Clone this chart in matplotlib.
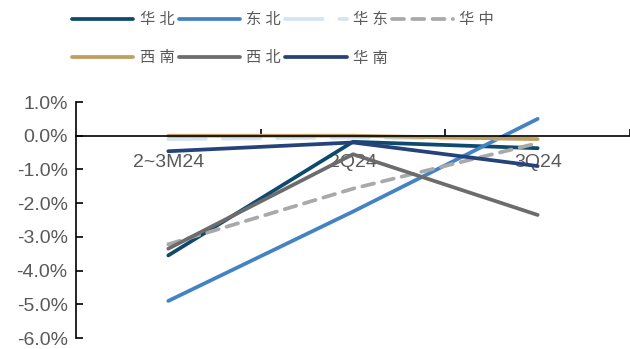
import matplotlib
matplotlib.use('Agg')
import matplotlib.pyplot as plt
from matplotlib.ticker import FuncFormatter, FixedLocator

plt.rcParams['font.family'] = ['Liberation Sans', 'Noto Sans CJK SC', 'DejaVu Sans']

# 01 - Data (percent)
periods = ['2~3M24', '2Q24', '3Q24']
north = [-3.55, -0.18, -0.37]        # 华北
northeast = [-4.90, -2.25, 0.50]     # 东北
east = [-0.10, -0.05, -0.10]         # 华东
central = [-3.22, -1.57, -0.22]      # 华中
southwest = [0.00, 0.00, -0.10]      # 西南
northwest = [-3.35, -0.55, -2.35]    # 西北
south = [-0.46, -0.20, -0.90]        # 华南

# 02 - Figure
fig = plt.figure(figsize=(6.3, 3.49), dpi=100)
ax = fig.add_axes([0.1206, 0.0315, 0.8794, 0.6762])
x = [0.5, 1.5, 2.5]
lw = 2.7

h_north, = ax.plot(x, north, color='#0E4A6D', lw=lw, solid_capstyle='round', label='华 北')
h_ne, = ax.plot(x, northeast, color='#4383C4', lw=lw, solid_capstyle='round', label='东 北')
h_east, = ax.plot(x, east, color='#D5E4F3', lw=lw, dashes=(10, 4.5), dash_capstyle='round', label='华 东')
h_central, = ax.plot(x, central, color='#A9A9A9', lw=lw, dashes=(3.2, 2.2), dash_capstyle='round', label='华 中')
h_sw, = ax.plot(x, southwest, color='#C19F5C', lw=lw, solid_capstyle='round', label='西 南')
h_nw, = ax.plot(x, northwest, color='#6C6C6C', lw=lw, solid_capstyle='round', label='西 北')
h_south, = ax.plot(x, south, color='#26427A', lw=lw, solid_capstyle='round', label='华 南')

# 03 - Axes
ax.set_xlim(0, 3)
ax.set_ylim(-6, 1)
ax.spines['top'].set_visible(False)
ax.spines['right'].set_visible(False)
ax.spines['bottom'].set_position(('data', 0))
ax.spines['bottom'].set_linewidth(1.2)
ax.spines['left'].set_linewidth(1.2)

ax.set_yticks([1, 0, -1, -2, -3, -4, -5, -6])
ax.yaxis.set_major_formatter(FuncFormatter(lambda v, p: f'{v:.1f}%'))
ax.tick_params(axis='y', direction='in', length=5, width=1.2, pad=6,
               labelsize=14, labelcolor='#595959')

ax.set_xticks(x)
ax.set_xticklabels(periods)
ax.xaxis.set_minor_locator(FixedLocator([1, 2, 3]))
ax.tick_params(axis='x', which='major', length=0, pad=13,
               labelsize=14, labelcolor='#595959')
ax.tick_params(axis='x', which='minor', direction='in', length=5, width=1.2)

# 04 - Legend
handles = [h_north, h_sw, h_ne, h_nw, h_east, h_south, h_central]
leg = fig.legend(handles=handles, labels=[h.get_label() for h in handles],
                 ncol=4, loc='upper left', bbox_to_anchor=(0.093, 1.003),
                 frameon=False, fontsize=11, handlelength=4.0,
                 handletextpad=0.4, columnspacing=0.3, labelspacing=1.6,
                 labelcolor='#595959')

fig.savefig('out.png', dpi=100)
